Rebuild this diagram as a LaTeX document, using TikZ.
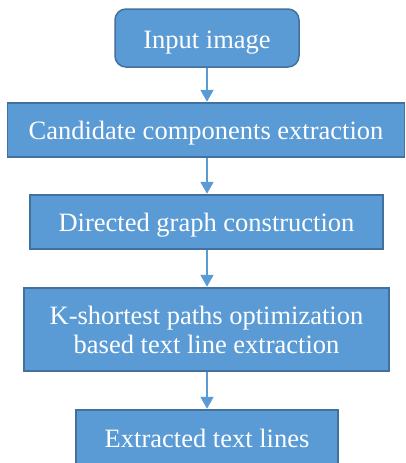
\documentclass[tikz,border=0pt]{standalone}
\usepackage{fontspec}
\setmainfont{Liberation Serif}
\usetikzlibrary{arrows.meta}
\definecolor{boxfill}{HTML}{5B9BD5}
\definecolor{boxline}{HTML}{41719C}
\tikzset{
  stagebox/.style={draw=boxline, fill=boxfill, line width=1.5pt, text=white,
    font=\fontsize{26.5}{29}\selectfont, align=center, inner sep=0pt},
  oneline/.style={text height=#1, text depth=0pt},
  oneline/.default=18pt,
  flow/.style={draw=boxfill, line width=2pt,
    -{Triangle[length=12pt,width=13pt]}, shorten >=0.5pt}
}
\begin{document}
\begin{tikzpicture}[x=1pt,y=-1pt]
\useasboundingbox (0,0) rectangle (406,463);
\clip (0,0) rectangle (406,463);
\node[stagebox, oneline=20pt, rounded corners=11pt, minimum width=184pt, minimum height=58pt] (input) at (207,38) {Input image};
\node[stagebox, oneline, minimum width=397pt, minimum height=54pt] (cand) at (206,130) {Candidate components extraction};
\node[stagebox, oneline, minimum width=353pt, minimum height=54pt] (graph) at (206.5,222) {Directed graph construction};
\node[stagebox, minimum width=365pt, minimum height=83pt] (ksp) at (206.5,329.5) {K-shortest paths optimization\\based text line extraction};
\node[stagebox, oneline, minimum width=262pt, minimum height=56pt] (out) at (207,438) {Extracted text lines};
\draw[flow] (input.south) -- (input.south |- cand.north);
\draw[flow] (input.south |- cand.south) -- (input.south |- graph.north);
\draw[flow] (input.south |- graph.south) -- (input.south |- ksp.north);
\draw[flow] (input.south |- ksp.south) -- (input.south |- out.north);
\end{tikzpicture}
\end{document}
